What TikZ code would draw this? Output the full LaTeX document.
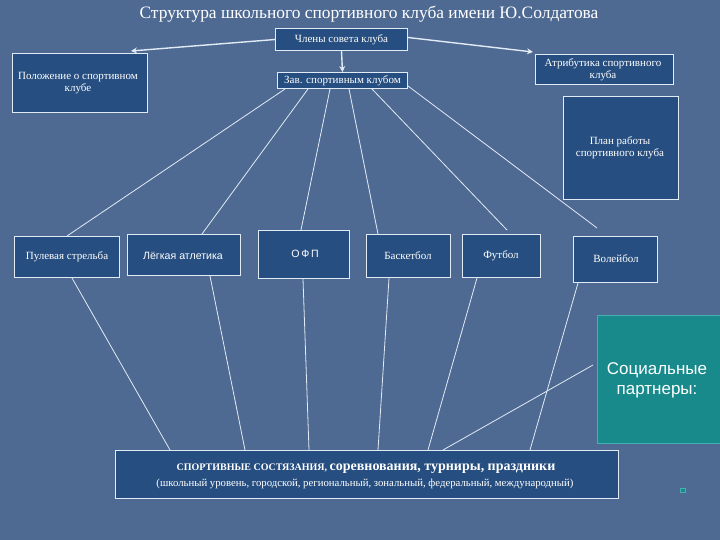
\documentclass[tikz,border=0pt]{standalone}
\usepackage{fontspec}
\setmainfont{Liberation Serif}
\newfontfamily\sansf{Liberation Sans}
\usetikzlibrary{arrows.meta,calc}
\definecolor{bgc}{RGB}{78,106,146}
\definecolor{boxc}{RGB}{38,78,128}
\definecolor{tealc}{RGB}{24,138,140}
\definecolor{tealb}{RGB}{70,175,175}
\definecolor{linkc}{RGB}{225,235,245}
\begin{document}
\begin{tikzpicture}[x=1pt,y=-1pt,
  box/.style={draw=linkc, line width=1pt, fill=boxc, anchor=north west, inner sep=0pt},
  lbl/.style={text=white, font=\fontsize{11}{12.5}\selectfont, align=center, inner sep=0pt},
  slbl/.style={text=white, font=\sansf\fontsize{10.6}{12}\selectfont, align=center, inner sep=0pt},
  link/.style={draw=linkc, line width=0.8pt},
  arr/.style={draw=linkc, line width=1.4pt, -{Stealth[length=6pt,width=6pt]}}]
\fill[bgc] (0,0) rectangle (720,540);
\useasboundingbox (0,0) rectangle (720,540);

\node[text=white, font=\fontsize{17.4}{19}\selectfont, inner sep=0pt] (title) at (369,14) {Структура школьного спортивного клуба имени Ю.Солдатова};

% top boxes
\node[box, minimum width=132, minimum height=22] (chlen) at (275,28) {};
\node[lbl] (chlenT) at (chlen.center) {Члены совета клуба};
\node[box, minimum width=130, minimum height=16] (zav) at (277,72) {};
\node[lbl] (zavT) at (zav.center) {Зав. спортивным клубом};
\node[box, minimum width=135, minimum height=59] (polozh) at (12,53) {};
\node[lbl] (polozhT) at (78,83) {Положение о спортивном\\клубе};
\node[box, minimum width=138, minimum height=30] (atr) at (535,54) {};
\node[lbl] (atrT) at (603,70) {Атрибутика спортивного\\клуба};
\node[box, minimum width=115, minimum height=103] (plan) at (563,96) {};
\node[lbl] (planT) at (620,148) {План работы\\спортивного клуба};

% row boxes
\node[box, minimum width=105, minimum height=41] (pul) at (14,236) {};
\node[lbl] (pulT) at (67,257) {Пулевая стрельба};
\node[box, minimum width=113, minimum height=41] (leg) at (127,234) {};
\node[slbl] (legT) at (183,256) {Лёгкая атлетика};
\node[box, minimum width=91, minimum height=48] (ofp) at (258,230) {};
\node[slbl] (ofpT) at (305,254) {О\,Ф\,П};
\node[box, minimum width=84, minimum height=43] (bask) at (366,234) {};
\node[lbl] (baskT) at (408,256) {Баскетбол};
\node[box, minimum width=78, minimum height=43] (fut) at (462,234) {};
\node[lbl] (futT) at (501,256) {Футбол};
\node[box, minimum width=84, minimum height=46] (vol) at (573,236) {};
\node[lbl] (volT) at (616,259) {Волейбол};

% social partners
\node[draw=tealb, line width=1pt, fill=tealc, anchor=north west, inner sep=0pt, minimum width=124, minimum height=128] (soc) at (597,315) {};
\node[text=white, font=\sansf\fontsize{17}{20}\selectfont, align=center, inner sep=0pt] (socT) at (657,380) {Социальные\\партнеры:};

% bottom box
\node[box, minimum width=503, minimum height=48] (bot) at (115,450) {};
\node[text=white, inner sep=0pt] (botT1) at (366,469) {\bfseries\fontsize{10}{12}\selectfont СПОРТИВНЫЕ СОСТЯЗАНИЯ, \fontsize{14}{16}\selectfont соревнования, турниры, праздники};
\node[text=white, inner sep=0pt, font=\fontsize{10.75}{12}\selectfont] (botT2) at (365,484) {(школьный уровень, городской, региональный, зональный, федеральный, международный)};

\node[draw=tealb, fill=tealc, line width=0.6pt, anchor=north west, inner sep=0pt, minimum width=5, minimum height=4] (sq) at (680,488) {};

% arrows
\draw[arr] (chlen.west) -- ($(polozh.north west)+(119,-2)$);
\draw[arr] ($(chlen.east)+(0,-2)$) -- ($(atr.north west)+(-2,-2)$);
\draw[arr] (chlen.south) -- (zav.north);

% top connectors
\draw[link] ($(zav.south west)+(8,0)$) -- ($(pul.north west)+(53,0)$);
\draw[link] ($(zav.south west)+(31,0)$) -- ($(leg.north west)+(75,0)$);
\draw[link] ($(zav.south west)+(53,0)$) -- ($(ofp.north west)+(43,0)$);
\draw[link] ($(zav.south west)+(72,0)$) -- ($(bask.north west)+(12,0)$);
\draw[link] ($(zav.south west)+(95,0)$) -- ($(fut.north west)+(45,-4)$);
\draw[link] ($(zav.south east)+(0,-3)$) -- ($(vol.north west)+(24,-8)$);

% bottom connectors
\draw[link] ($(pul.south west)+(58,0)$) -- ($(bot.north west)+(55,0)$);
\draw[link] ($(leg.south west)+(83,0)$) -- ($(bot.north west)+(130,0)$);
\draw[link] ($(ofp.south west)+(45,0)$) -- ($(bot.north west)+(194,0)$);
\draw[link] ($(bask.south west)+(23,0)$) -- ($(bot.north west)+(263,0)$);
\draw[link] ($(fut.south west)+(15,0)$) -- ($(bot.north west)+(313,0)$);
\draw[link] ($(vol.south west)+(5,0)$) -- ($(bot.north west)+(415,0)$);
\draw[link] ($(soc.north west)+(-4,50)$) -- ($(bot.north west)+(328,0)$);
\end{tikzpicture}
\end{document}
